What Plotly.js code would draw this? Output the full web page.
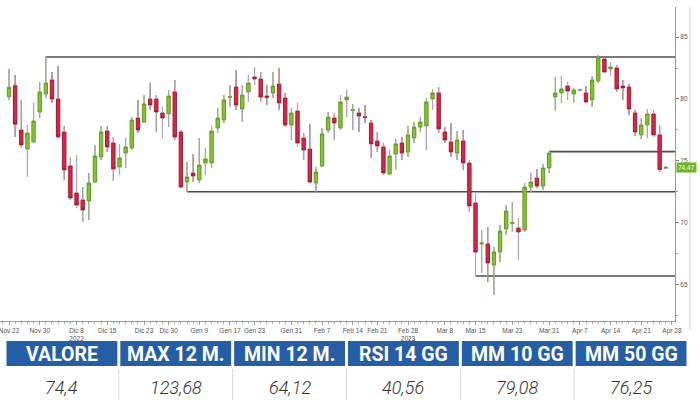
<!DOCTYPE html>
<html><head><meta charset="utf-8">
<script src="https://cdn.plot.ly/plotly-3.0.1.min.js"></script>
<style>html,body{margin:0;padding:0;background:#fff}#chart{width:700px;height:400px}</style>
</head><body><div id="chart"></div>
<script>
const dates = ['2022-11-22','2022-11-23','2022-11-25','2022-11-28','2022-11-29','2022-11-30','2022-12-01','2022-12-02','2022-12-05','2022-12-06',
'2022-12-07','2022-12-08','2022-12-09','2022-12-12','2022-12-13','2022-12-14','2022-12-15','2022-12-16','2022-12-19','2022-12-20',
'2022-12-21','2022-12-22','2022-12-23','2022-12-27','2022-12-28','2022-12-29','2022-12-30','2023-01-03','2023-01-04','2023-01-05',
'2023-01-06','2023-01-09','2023-01-10','2023-01-11','2023-01-12','2023-01-13','2023-01-17','2023-01-18','2023-01-19','2023-01-20',
'2023-01-23','2023-01-24','2023-01-25','2023-01-26','2023-01-27','2023-01-30','2023-01-31','2023-02-01','2023-02-02','2023-02-03',
'2023-02-06','2023-02-07','2023-02-08','2023-02-09','2023-02-10','2023-02-13','2023-02-14','2023-02-15','2023-02-16','2023-02-17',
'2023-02-21','2023-02-22','2023-02-23','2023-02-24','2023-02-27','2023-02-28','2023-03-01','2023-03-02','2023-03-03','2023-03-06',
'2023-03-07','2023-03-08','2023-03-09','2023-03-10','2023-03-13','2023-03-14','2023-03-15','2023-03-16','2023-03-17','2023-03-20',
'2023-03-21','2023-03-22','2023-03-23','2023-03-24','2023-03-27','2023-03-28','2023-03-29','2023-03-30','2023-03-31','2023-04-03',
'2023-04-04','2023-04-05','2023-04-06','2023-04-07','2023-04-10','2023-04-11','2023-04-12','2023-04-13','2023-04-14','2023-04-17',
'2023-04-18','2023-04-19','2023-04-20','2023-04-21','2023-04-24','2023-04-25','2023-04-26','2023-04-27'];
const open = [80.19,81.08,77.49,75.95,76.52,78.95,80.40,81.54,80.00,77.33,
74.58,72.39,71.83,71.75,73.28,75.31,77.41,76.44,74.50,75.63,
76.04,78.46,78.14,80.00,80.00,78.87,78.79,80.57,77.33,73.28,
74.01,73.45,74.82,74.82,77.65,78.30,80.12,80.97,79.19,80.57,
81.78,81.62,80.24,80.49,81.21,80.08,77.90,79.03,76.84,75.95,
73.20,74.58,77.49,78.46,77.65,79.92,79.07,78.87,78.57,78.06,
76.60,76.12,73.93,75.55,76.44,75.71,76.84,77.73,77.82,80.00,
80.49,77.33,76.52,75.63,76.60,74.82,71.59,68.27,68.27,66.57,
67.62,69.48,69.93,69.56,69.40,72.88,73.61,72.96,74.42,80.16,
80.49,81.05,80.40,80.73,80.49,79.92,81.46,83.24,82.43,82.51,
81.05,80.97,78.87,77.09,77.90,78.79,77.09,74.40];
const high = [82.43,81.94,79.92,77.90,79.68,81.38,83.40,82.18,82.67,77.82,
75.31,75.47,72.88,74.01,76.28,77.82,77.82,76.93,76.36,76.84,
78.54,79.92,80.32,81.29,80.32,79.35,80.73,81.54,77.49,74.90,
75.55,76.84,76.04,77.82,79.27,80.32,81.13,82.35,81.13,81.94,
82.59,82.18,81.13,82.18,82.51,80.49,79.27,79.68,77.25,77.98,
74.50,77.65,78.95,78.87,80.32,80.73,79.60,79.27,79.51,78.30,
77.33,76.44,75.87,76.76,76.93,77.82,78.14,78.54,80.08,80.81,
80.97,77.73,78.06,77.41,77.49,75.06,72.48,69.40,69.64,68.03,
69.81,71.42,71.67,70.37,73.20,74.01,74.34,74.74,75.74,81.78,
81.86,81.38,80.89,80.73,81.05,81.86,83.56,83.40,82.99,82.75,
81.54,81.21,79.11,78.46,79.19,79.11,77.90,74.55];
const low = [79.92,76.93,76.04,73.69,76.44,78.46,80.08,79.68,76.84,73.45,
71.83,71.18,70.05,70.21,73.20,75.06,75.71,73.37,73.85,74.42,
75.87,77.25,78.06,79.11,77.33,76.84,77.73,76.68,72.80,72.50,
73.28,73.20,73.85,74.42,77.25,78.06,79.35,79.11,78.14,79.76,
81.13,79.76,79.51,80.08,79.11,77.73,76.68,76.12,75.06,73.20,
72.39,74.50,77.25,76.68,77.49,78.54,77.49,77.33,78.06,75.23,
75.71,73.85,73.85,74.26,75.06,75.31,76.44,77.33,75.87,79.11,
77.25,76.44,75.31,75.06,74.26,70.86,65.68,65.92,65.19,64.14,
66.81,69.00,69.24,66.97,69.24,72.39,72.80,72.64,74.01,79.03,
79.68,79.92,79.68,80.73,79.68,79.35,81.29,82.10,81.86,80.57,
79.92,78.71,77.01,76.76,76.84,76.93,74.09,74.35];
const close = [80.95,77.95,76.28,77.25,78.22,80.57,81.29,80.00,76.93,74.26,
71.99,71.42,71.02,73.20,75.39,77.33,76.12,74.34,75.23,76.12,
78.30,77.49,79.60,79.51,78.95,78.46,80.24,76.93,72.88,73.69,
73.77,74.66,75.15,77.41,78.46,79.92,80.19,79.51,80.32,81.29,
81.62,80.16,80.12,81.05,79.68,77.90,78.87,76.44,75.87,73.28,
74.09,77.17,78.54,78.06,79.76,80.16,79.13,78.62,78.50,76.36,
76.20,74.01,75.39,76.36,75.63,77.09,77.73,78.14,79.76,80.49,
77.57,76.68,75.71,76.68,74.82,71.34,67.62,68.35,66.73,67.62,
69.32,70.94,70.01,69.24,72.88,73.28,72.96,74.42,75.63,80.49,
80.81,80.65,80.73,80.73,79.76,81.54,83.32,82.18,82.59,80.81,
80.89,79.19,77.33,77.90,78.79,77.09,74.30,74.47];

const holidays = ['2022-11-24','2022-12-26','2023-01-02','2023-01-16','2023-02-20'];
const tickDates = ['2022-11-22','2022-11-30','2022-12-08','2022-12-15','2022-12-23','2022-12-30','2023-01-09','2023-01-17','2023-01-23','2023-01-31',
'2023-02-07','2023-02-14','2023-02-21','2023-02-28','2023-03-08','2023-03-15','2023-03-23','2023-03-31','2023-04-07','2023-04-14','2023-04-21','2023-04-28'];
const tickLabels = ['Nov 22','Nov 30','Dic 8<br>2022','Dic 15','Dic 23','Dic 30','Gen 9','Gen 17','Gen 23','Gen 31',
'Feb 7','Feb 14','Feb 21','Feb 28<br>2023','Mar 8','Mar 15','Mar 23','Mar 31','Apr 7','Apr 14','Apr 21','Apr 28'];
const yTicks = [65, 70, 75, 80, 85];
const levelStart = ['2022-12-01','2023-01-05','2023-03-15','2023-03-31'];
const levelValue = [83.40, 72.50, 65.68, 75.74];
const statHeaders = ['VALORE','MAX 12 M.','MIN 12 M.','RSI 14 GG','MM 10 GG','MM 50 GG'];
const statValues = ['74,4','123,68','64,12','40,56','79,08','76,25'];

const W = 700, H = 400;
const xEnd = '2023-04-28 12:00';
const px = v => v / W, py = v => 1 - v / H;

const wx = [], wy = [];
dates.forEach((d, i) => {
  const top = Math.max(open[i], close[i]), bot = Math.min(open[i], close[i]);
  wx.push(d, d, null, d, d, null);
  wy.push(high[i], top, null, bot, low[i], null);
});

const traces = [
  {type: 'candlestick', x: dates, open: open, high: high, low: low, close: close,
   increasing: {fillcolor: '#86c232', line: {color: '#5e9a1f', width: 1}},
   decreasing: {fillcolor: '#dc2648', line: {color: '#a9142f', width: 1}},
   whiskerwidth: 0, hoverinfo: 'skip', showlegend: false},
  {type: 'scatter', mode: 'lines', x: wx, y: wy, line: {color: '#a9a9a9', width: 1.2},
   hoverinfo: 'skip', showlegend: false}
];

const shapes = [];
levelStart.forEach((d, i) => {
  shapes.push({type: 'line', xref: 'x', yref: 'y', x0: d, x1: xEnd, y0: levelValue[i], y1: levelValue[i],
    line: {color: '#4d4d4d', width: 1.6}, layer: 'below'});
});
shapes.push({type: 'line', xref: 'paper', yref: 'paper', x0: px(690), x1: px(690), y0: py(330), y1: py(7),
  line: {color: '#d0d0d0', width: 1}});

const annotations = [];
const last = close[close.length - 1];
annotations.push({xref: 'paper', yref: 'y', x: px(676), y: last, text: last.toFixed(2), showarrow: false,
  xanchor: 'left', yanchor: 'middle', bgcolor: '#6cb52a', borderpad: 1,
  font: {family: 'Liberation Sans', size: 6.5, color: '#ffffff'}});

const tL = 5, tR = 688, colW = (tR - tL) / statHeaders.length;
statHeaders.forEach((h, i) => {
  const x0 = tL + i * colW, x1 = x0 + colW;
  shapes.push({type: 'rect', xref: 'paper', yref: 'paper', x0: px(x0 + 1.5), x1: px(x1 - 1.5), y0: py(366), y1: py(341),
    fillcolor: '#265ea5', line: {width: 0}});
  annotations.push({xref: 'paper', yref: 'paper', x: px((x0 + x1) / 2), y: py(354), text: '<b>' + h + '</b>',
    showarrow: false, xanchor: 'center', yanchor: 'middle',
    font: {family: 'Roboto', size: 19.5, color: '#ffffff'}});
  annotations.push({xref: 'paper', yref: 'paper', x: px((x0 + x1) / 2), y: py(387), text: '<i>' + statValues[i] + '</i>',
    showarrow: false, xanchor: 'center', yanchor: 'middle',
    font: {family: 'Roboto', size: 18, color: '#333333', weight: 300}});
  if (i > 0) shapes.push({type: 'line', xref: 'paper', yref: 'paper', x0: px(x0), x1: px(x0), y0: py(400), y1: py(369),
    line: {color: '#d6d6d6', width: 1}});
});

const layout = {
  width: W, height: H, margin: {l: 0, r: 0, t: 0, b: 0},
  paper_bgcolor: '#ffffff', plot_bgcolor: '#ffffff', showlegend: false, hovermode: false,
  boxgap: 0.22,
  xaxis: {type: 'date', domain: [0, px(675)], range: ['2022-11-18 12:43', xEnd],
    rangebreaks: [{bounds: ['sat', 'mon']}, {values: holidays}],
    rangeslider: {visible: false},
    tickmode: 'array', tickvals: tickDates, ticktext: tickLabels, ticklabeloverflow: 'allow',
    ticks: 'outside', ticklen: 3, tickcolor: '#999', tickfont: {family: 'Liberation Sans', size: 6.5, color: '#555'},
    showline: true, linecolor: '#9a9a9a', linewidth: 1, showgrid: false, zeroline: false,
    minor: {ticks: 'outside', ticklen: 2, tickcolor: '#b0b0b0', tickmode: 'linear', dtick: 86400000, showgrid: false}},
  yaxis: {domain: [py(321), py(7)], range: [62.04, 87.44], side: 'right',
    tickmode: 'array', tickvals: yTicks, ticks: 'outside', ticklen: 3, tickcolor: '#777',
    tickfont: {family: 'Liberation Sans', size: 6.5, color: '#555'},
    showline: true, linecolor: '#9a9a9a', linewidth: 1, showgrid: false, zeroline: false,
    minor: {ticks: 'outside', ticklen: 2, tickcolor: '#999', tickmode: 'linear', tick0: 62.5, dtick: 5, showgrid: false}},
  shapes: shapes, annotations: annotations
};

Plotly.newPlot('chart', traces, layout, {staticPlot: true, displayModeBar: false});
</script></body></html>
